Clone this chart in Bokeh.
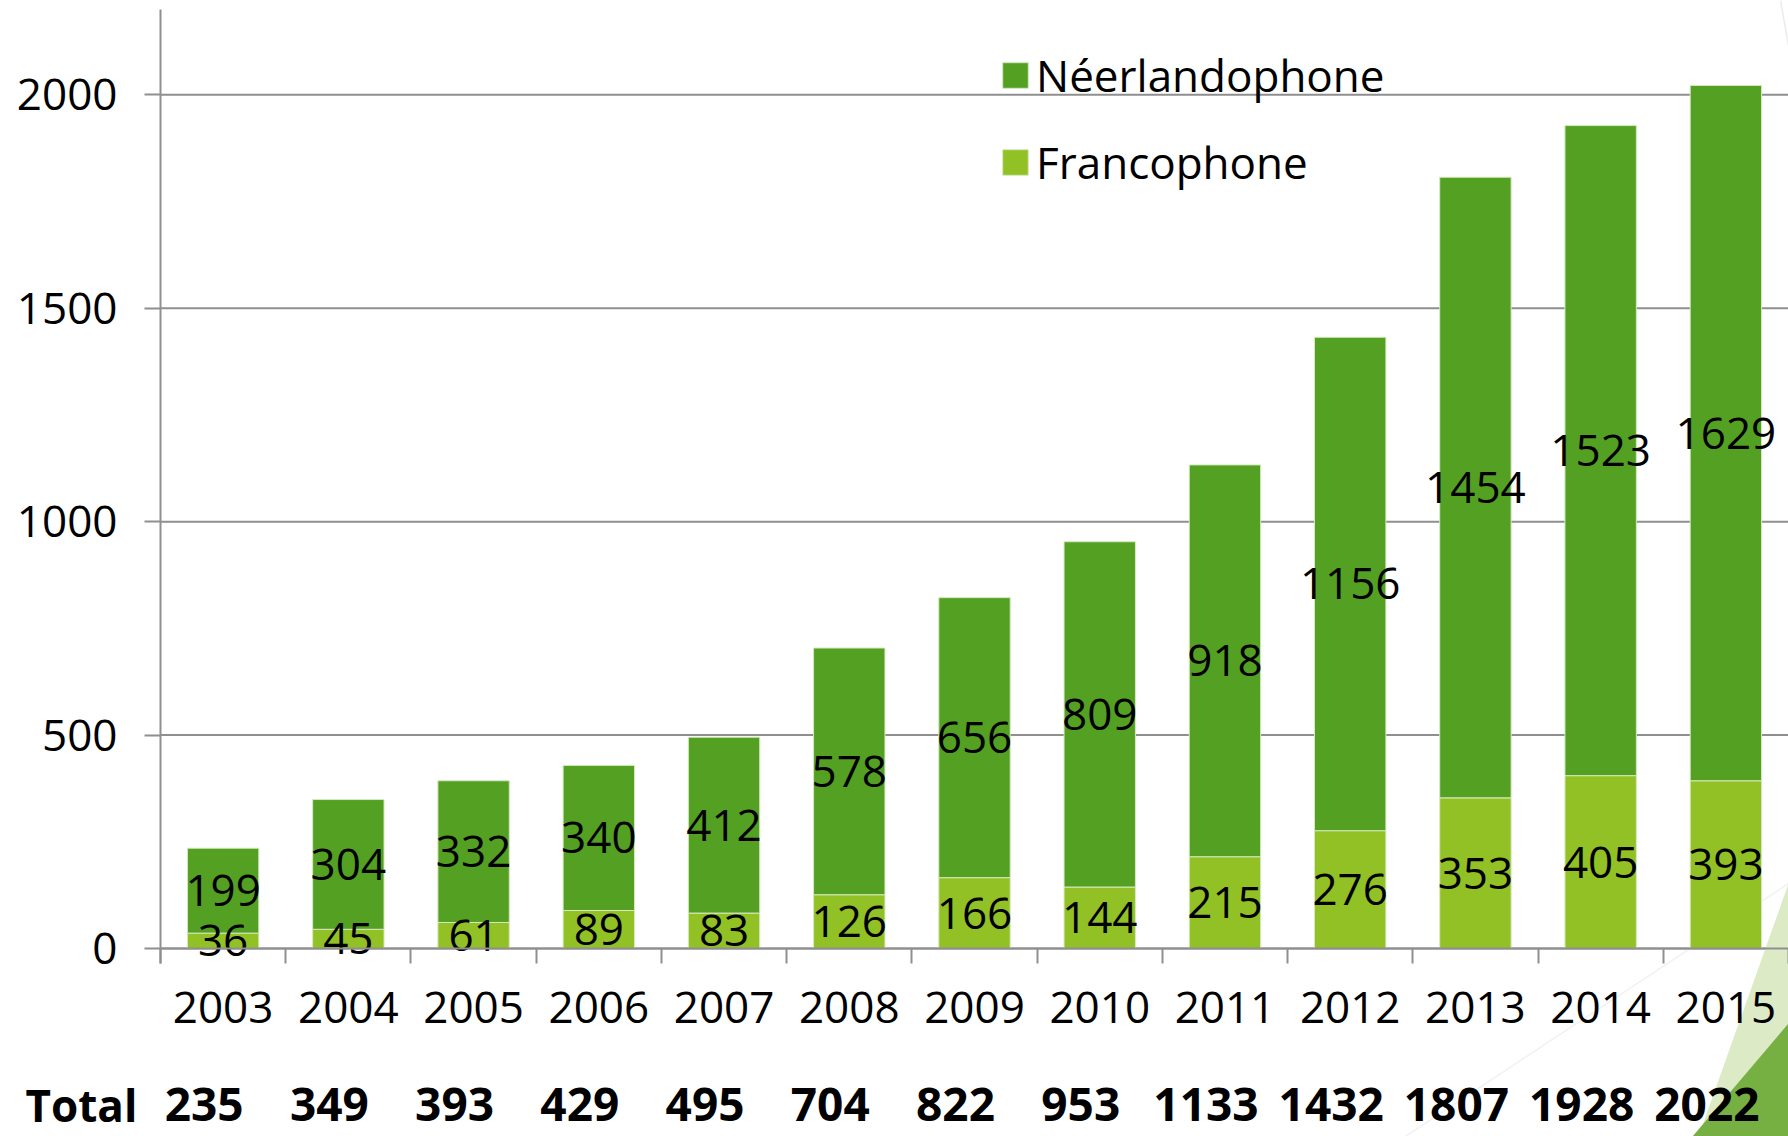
from bokeh.plotting import figure
from bokeh.models import (FixedTicker, LinearAxis, Legend, LegendItem,
                          PolyAnnotation, Range1d, ColumnDataSource)
from bokeh.transform import stack
from bokeh.core.properties import value
from bokeh.embed import file_html
from bokeh.resources import INLINE

# ---- data ----
years = ["2003", "2004", "2005", "2006", "2007", "2008", "2009",
         "2010", "2011", "2012", "2013", "2014", "2015"]
francophone = [36, 45, 61, 89, 83, 126, 166, 144, 215, 276, 353, 405, 393]
neerlandophone = [199, 304, 332, 340, 412, 578, 656, 809, 918, 1156, 1454, 1523, 1629]
totals = [235, 349, 393, 429, 495, 704, 822, 953, 1133, 1432, 1807, 1928, 2022]
y_ticks = [0, 500, 1000, 1500, 2000]
total_label = "Total"

# ---- style / layout (pixels) ----
FONT = "Open Sans"
DARK = "#53a022"
LIGHT = "#92c125"
GRAY = "#8f8f8f"
W, H = 1788, 1136
LEFT = 160          # y axis position
AX_TOP_PX = 9       # top end of the y axis
ZERO_PX = 948       # pixel row of the zero line
YEAR_ROW_PX = 1007  # centre row of the year labels
TOTAL_ROW_PX = 1104 # centre row of the totals
TICK_LEN = 15
AX_TOP = 2200
TOTAL_SHIFT = -19   # totals row is typeset slightly left of bar centres

n = len(years)
PX = (ZERO_PX - AX_TOP_PX) / AX_TOP            # pixels per unit
X_LEFT = -n * LEFT / (W - LEFT)
y_lo = -(H - ZERO_PX) / PX
y_hi = AX_TOP + AX_TOP_PX / PX
y_year = -(YEAR_ROW_PX - ZERO_PX) / PX
y_total = -(TOTAL_ROW_PX - ZERO_PX) / PX

centers = [i + 0.5 for i in range(n)]
fr_mid = [f / 2 for f in francophone]
nl_mid = [f + v / 2 for f, v in zip(francophone, neerlandophone)]

src = ColumnDataSource(dict(x=centers, fr=francophone, nl=neerlandophone,
                            fr_mid=fr_mid, nl_mid=nl_mid,
                            fr_txt=[str(v) for v in francophone],
                            nl_txt=[str(v) for v in neerlandophone],
                            year=years, tot=[str(t) for t in totals]))

p = figure(width=W, height=H, output_backend="svg", toolbar_location=None,
           x_range=Range1d(X_LEFT, n), y_range=Range1d(y_lo, y_hi),
           x_axis_type=None, y_axis_type=None,
           min_border_left=0, min_border_right=0, min_border_top=0,
           min_border_bottom=0)
p.outline_line_color = None
p.grid.visible = False

def deco(xs, ys, fill=None, line=None):
    p.add_layout(PolyAnnotation(xs=xs, ys=ys, xs_units="canvas", ys_units="canvas",
                                fill_color=fill if fill else "white",
                                fill_alpha=1 if fill else 0,
                                line_color=line, line_width=1.5,
                                level="underlay"))

# slide decorations (canvas pixels)
deco([W, W - 90, W], [883, H, H], fill="#dcebc6")
deco([W, W - 96, W], [1023, H, H], fill="#76b043")
deco([W - 383, W], [H, 883], line="#d0d0d0")
deco([W - 8, W], [0, 45], line="#c0c0c0")

# horizontal grid lines over the plot area
p.segment(x0=0, x1=n, y0=y_ticks, y1=y_ticks, line_color=GRAY, line_width=2,
          level="underlay")

# y axis at x = 0
ya = LinearAxis(ticker=FixedTicker(ticks=y_ticks), fixed_location=0,
                bounds=(-TICK_LEN / PX, AX_TOP),
                axis_line_color=GRAY, axis_line_width=2,
                major_tick_line_color=GRAY, major_tick_line_width=2,
                major_tick_out=16, major_tick_in=0,
                minor_tick_line_color=None,
                major_label_standoff=27, major_label_text_font=FONT,
                major_label_text_font_size="44px", major_label_text_color="black")
p.add_layout(ya, "left")

# x axis at zero: line and category boundary ticks
bounds = list(range(n + 1))
xa = LinearAxis(ticker=FixedTicker(ticks=bounds), fixed_location=0, bounds=(0, n),
                major_label_overrides={b: "" for b in bounds},
                major_label_text_font_size="0px", major_label_standoff=0,
                major_tick_line_color=GRAY, major_tick_line_width=2,
                major_tick_out=TICK_LEN, major_tick_in=0,
                minor_tick_line_color=None,
                axis_line_color=GRAY, axis_line_width=2)
p.add_layout(xa, "below")

# bars
r_fr = p.vbar(x="x", bottom=0, top="fr", width=0.57, source=src,
              fill_color=LIGHT, line_color="#d6e9c0", line_width=1)
r_nl = p.vbar(x="x", bottom="fr", top=stack("fr", "nl"), width=0.57, source=src,
              fill_color=DARK, line_color="#d6e9c0", line_width=1)

p.text(x="x", y="fr_mid", text="fr_txt", source=src, text_font=value(FONT),
       text_font_size="44px", text_align="center", text_baseline="middle",
       text_color="black")
p.text(x="x", y="nl_mid", text="nl_txt", source=src, text_font=value(FONT),
       text_font_size="44px", text_align="center", text_baseline="middle",
       text_color="black")

# category labels, totals row and its heading
p.text(x="x", y=y_year, text="year", source=src, text_font=value(FONT),
       text_font_size="44px", text_align="center", text_baseline="middle",
       text_color="black")
p.text(x="x", y=y_total, text="tot", source=src, text_font=value(FONT),
       text_font_size="46px", text_font_style="bold", text_align="center",
       text_baseline="middle", text_color="black", x_offset=TOTAL_SHIFT)
p.text(x=[X_LEFT], y=[y_total], text=[total_label], x_offset=25,
       text_font=value(FONT), text_font_size="44px", text_font_style="bold",
       text_align="left", text_baseline="middle", text_color="black")

legend = Legend(items=[LegendItem(label="Néerlandophone", renderers=[r_nl]),
                       LegendItem(label="Francophone", renderers=[r_fr])],
                location=(999, 944), padding=0, margin=0, spacing=27,
                glyph_width=32, glyph_height=32, label_standoff=5,
                label_text_font=FONT, label_text_font_size="44px",
                label_text_color="black",
                border_line_color=None, background_fill_alpha=0)
p.add_layout(legend)

open("out.html", "w").write(file_html(p, INLINE))
